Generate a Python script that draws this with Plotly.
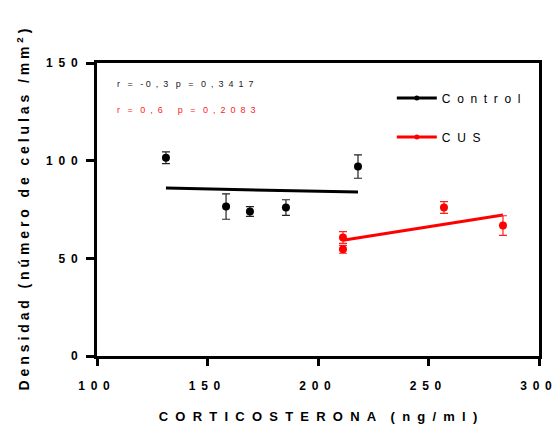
import numpy as np
import plotly.graph_objects as go

# Data
ctrl_x = [131.2, 158.4, 169.2, 185.5, 218.1]
ctrl_y = [101.5, 76.5, 74.0, 76.0, 97.0]
ctrl_err = [3.0, 6.5, 2.5, 4.0, 6.0]

cus_x = [211.3, 211.3, 257.0, 283.7]
cus_y = [60.7, 54.6, 76.0, 66.8]
cus_err = [3.0, 2.0, 3.0, 5.0]

x_ticks = [100, 150, 200, 250, 300]
y_ticks = [0, 50, 100, 150]

NB = "\u00a0"
TH = "\u2009"

def spaced(s, sep=NB):
    return sep.join(list(str(s)))

FONT = "Liberation Sans, Arial, sans-serif"

fig = go.Figure()

# regression lines
for xs, ys, col in [(ctrl_x, ctrl_y, "black"), (cus_x, cus_y, "#ff0000")]:
    m, b = np.polyfit(xs, ys, 1)
    lx = [min(xs), max(xs)]
    fig.add_trace(go.Scatter(x=lx, y=[m * v + b for v in lx], mode="lines",
                             line=dict(color=col, width=3), showlegend=False,
                             hoverinfo="skip"))

# points
fig.add_trace(go.Scatter(x=ctrl_x, y=ctrl_y, mode="markers",
                         marker=dict(color="black", size=8),
                         error_y=dict(type="data", array=ctrl_err, color="#222222",
                                      thickness=1.2, width=4),
                         showlegend=False))
fig.add_trace(go.Scatter(x=cus_x, y=cus_y, mode="markers",
                         marker=dict(color="#ff0000", size=8),
                         error_y=dict(type="data", array=cus_err, color="#ff2020",
                                      thickness=1.2, width=4),
                         showlegend=False))

# legend entries
fig.add_trace(go.Scatter(x=[None], y=[None], mode="lines+markers", name=spaced("Control", NB * 2),
                         line=dict(color="black", width=3), marker=dict(color="black", size=5),
                         legendgroup="a"))
fig.add_trace(go.Scatter(x=[None], y=[None], mode="lines+markers", name=spaced("CUS", NB * 2),
                         line=dict(color="#ff0000", width=3), marker=dict(color="#ff0000", size=5),
                         legendgroup="b"))

W = NB * 3
fig.add_annotation(x=0.04, y=0.93, xref="paper", yref="paper", xanchor="left", yanchor="middle",
                   text="r" + W + "=" + W + "-" + NB + spaced("0,3", NB * 2) + W + "p" + W + "=" + W + spaced("0,3417", NB * 2),
                   showarrow=False, font=dict(family=FONT, size=9, color="#222222"))
fig.add_annotation(x=0.04, y=0.84, xref="paper", yref="paper", xanchor="left", yanchor="middle",
                   text="r" + W + "=" + W + spaced("0,6", NB * 2) + W + NB * 3 + "p" + W + "=" + W + spaced("0,2083", NB * 2),
                   showarrow=False, font=dict(family=FONT, size=9, color="#ff2020"))

S2 = NB * 2
xtitle = spaced("CORTICOSTERONA", S2) + NB * 4 + spaced("(ng/ml)", S2)
ytitle = (spaced("Densidad") + NB * 3 + spaced("(número") + NB * 3 + spaced("de") + NB * 3 +
          spaced("celulas") + NB * 3 + "/" + NB + "m" + NB + "m" + NB + "<sup>2</sup>" + NB + ")")

fig.update_layout(
    width=554, height=427,
    margin=dict(l=97, r=15, t=63, b=71),
    paper_bgcolor="white", plot_bgcolor="white",
    font=dict(family=FONT, color="black"),
    legend=dict(x=0.667, y=0.93, xanchor="left", yanchor="top",
                font=dict(family=FONT, size=12), tracegroupgap=20,
                bgcolor="rgba(0,0,0,0)", itemwidth=40),
    xaxis=dict(range=[100, 300], tickvals=x_ticks, ticktext=[spaced(v, NB + TH) for v in x_ticks],
               showgrid=False, zeroline=False, showline=True, linecolor="black", linewidth=3,
               mirror=True, ticks="outside", ticklen=7, tickwidth=3, tickcolor="black",
               tickfont=dict(family=FONT, size=12, weight="bold"), ticklabelstandoff=10,
               ticklabelshift=-3, ticklabeloverflow="allow",
               automargin=False,
               title=dict(text="<b>" + xtitle + "</b>",
                          font=dict(family=FONT, size=13), standoff=20)),
    yaxis=dict(range=[0, 150], tickvals=y_ticks, ticktext=[spaced(v, NB + TH) for v in y_ticks],
               showgrid=False, zeroline=False, showline=True, linecolor="black", linewidth=3,
               mirror=True, ticks="outside", ticklen=8, tickwidth=3, tickcolor="black",
               tickfont=dict(family=FONT, size=12, weight="bold"), ticklabelstandoff=6,
               automargin=False,
               title=dict(text="<b>" + ytitle + "</b>",
                          font=dict(family=FONT, size=14), standoff=14)),
)

fig.write_html("out.html")
